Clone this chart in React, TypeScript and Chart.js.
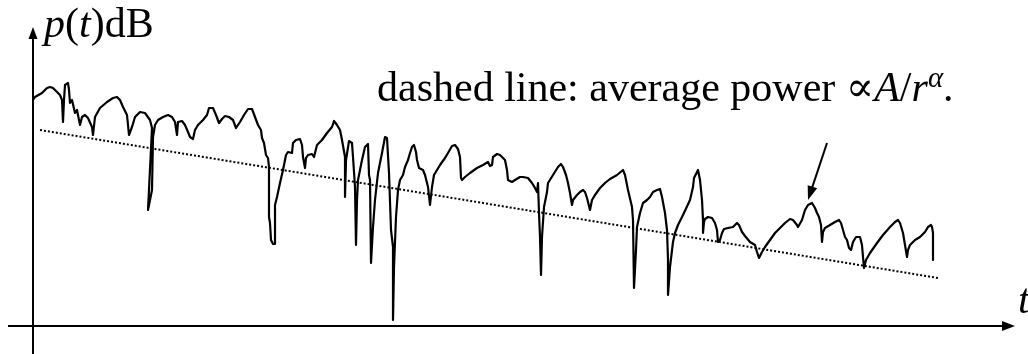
import React, { useEffect, useRef } from "react";
import { Chart, registerables } from "chart.js";

Chart.register(...registerables);

// time samples (t) and received power p(t) in dB (arbitrary units, axis origin = 0)
const timeT = [
  0, 2, 9, 14, 17, 20, 24, 27, 29, 30, 31, 32, 35, 36, 37, 39, 42, 44, 47, 49, 52, 55, 59, 60, 62, 67, 74, 80, 84, 87,
  90, 94, 96, 99, 102, 107, 112, 117, 119, 115, 119, 120, 122, 125, 130, 135, 139, 142, 144, 145, 149, 152, 155, 157,
  160, 162, 165, 170, 174, 176, 180, 183, 186, 189, 192, 196, 200, 203, 207, 211, 215, 219, 222, 225, 228, 229, 231,
  233, 235, 236, 236, 237, 238, 240, 242, 242, 244, 247, 250, 253, 255, 259, 260, 263, 267, 269, 270, 272, 273, 275,
  279, 281, 284, 289, 294, 299, 301, 304, 307, 309, 312, 312, 313, 316, 319, 320, 322, 323, 324, 325, 329, 332, 335,
  336, 337, 338, 340, 342, 345, 349, 352, 354, 356, 358, 360, 360, 361, 363, 365, 367, 370, 372, 375, 377, 379, 381,
  383, 384, 386, 390, 392, 395, 397, 399, 401, 404, 407, 412, 415, 419, 422, 425, 427, 428, 429, 432, 437, 444, 450,
  455, 457, 459, 460, 464, 467, 472, 474, 475, 479, 482, 487, 490, 495, 499, 502, 504, 505, 506, 507, 508, 509, 511,
  514, 515, 520, 525, 528, 530, 533, 535, 537, 539, 540, 544, 547, 550, 552, 554, 557, 559, 562, 567, 572, 577, 584,
  590, 592, 595, 599, 600, 601, 603, 604, 607, 610, 614, 617, 620, 624, 627, 629, 632, 634, 635, 635, 637, 640, 642,
  645, 650, 657, 660, 661, 664, 665, 667, 669, 670, 670, 671, 672, 675, 679, 682, 684, 685, 687, 689, 691, 695, 700,
  704, 706, 709, 712, 717, 722, 724, 726, 729, 732, 737, 742, 747, 752, 757, 760, 764, 765, 769, 772, 775, 779, 782,
  784, 786, 788, 789, 790, 792, 797, 802, 806, 808, 810, 812, 814, 816, 818, 820, 823, 827, 829, 830, 831, 833, 837,
  844, 850, 857, 862, 865, 867, 870, 872, 874, 875, 877, 882, 887, 892, 895, 898, 899, 900, 900, 900,
];
const powerDb = [
  226, 229, 233, 238, 239, 238, 234, 231, 226, 204, 226, 241, 243, 236, 223, 226, 213, 216, 201, 209, 211, 208, 199,
  191, 209, 218, 224, 228, 229, 226, 219, 211, 191, 199, 209, 214, 213, 206, 198, 116, 136, 189, 201, 206, 209, 211,
  209, 204, 191, 204, 205, 201, 194, 189, 187, 196, 201, 206, 211, 218, 218, 211, 203, 207, 210, 209, 206, 198, 204,
  211, 217, 217, 209, 201, 196, 188, 183, 171, 168, 159, 109, 103, 86, 82, 82, 121, 129, 143, 156, 171, 174, 173, 183,
  186, 187, 181, 169, 158, 168, 171, 172, 169, 181, 186, 193, 199, 205, 201, 196, 186, 169, 129, 166, 185, 183, 169,
  139, 81, 126, 146, 166, 179, 182, 151, 146, 63, 99, 126, 153, 173, 189, 188, 153, 96, 79, 6, 59, 109, 136, 146, 151,
  159, 166, 173, 179, 181, 174, 166, 158, 156, 151, 139, 121, 139, 151, 156, 161, 168, 173, 180, 181, 177, 169, 148,
  146, 149, 153, 158, 161, 164, 160, 161, 169, 172, 171, 166, 156, 146, 144, 146, 149, 149, 148, 143, 138, 134, 143,
  113, 89, 51, 89, 119, 134, 143, 151, 159, 162, 159, 151, 143, 133, 121, 126, 131, 134, 136, 134, 128, 116, 126, 131,
  138, 143, 147, 151, 156, 151, 136, 119, 106, 38, 76, 99, 113, 123, 126, 129, 134, 136, 137, 129, 113, 96, 66, 31,
  59, 84, 93, 101, 111, 126, 139, 148, 154, 156, 146, 126, 106, 93, 104, 107, 109, 108, 103, 96, 84, 86, 93, 97, 98,
  99, 103, 101, 94, 90, 84, 81, 74, 68, 74, 79, 86, 93, 98, 103, 107, 106, 101, 99, 106, 116, 121, 123, 118, 113, 109,
  101, 84, 94, 98, 101, 104, 106, 103, 96, 89, 86, 78, 76, 84, 89, 89, 81, 69, 58, 66, 73, 83, 91, 99, 104, 106, 103,
  93, 81, 69, 76, 81, 86, 89, 94, 99, 101, 99, 93, 76, 66,
];

// average power (dotted trend) end points
const avgT = [7, 905];
const avgDb = [196, 48];

// annotation arrow: from, to
const arrowT = [794, 775];
const arrowDb = [183, 126];

// axis extents
const axisT = [-25, 982];
const axisDb = [-28, 299];
const viewT = [-33, 995];
const viewDb = [-28, 326];

const yAxisLabel = [
  { text: "p", italic: true },
  { text: "(", italic: false },
  { text: "t", italic: true },
  { text: ")dB", italic: false },
];
const xAxisLabel = "t";
const noteLabel = [
  { text: "dashed line: average power ", italic: false },
  { text: "\u221D", italic: false },
  { text: "A", italic: true },
  { text: "/", italic: false },
  { text: "r", italic: true },
  { text: "\u03B1", italic: true, sup: true },
  { text: ".", italic: false },
];

const FONT = '"Liberation Serif", "Times New Roman", "DejaVu Serif", serif';

type Seg = { text: string; italic: boolean; sup?: boolean };

function drawRich(ctx: CanvasRenderingContext2D, x: number, y: number, segs: Seg[], size: number) {
  let cx = x;
  for (const s of segs) {
    const sz = s.sup ? Math.round(size * 0.68) : size;
    ctx.font = `${s.italic ? "italic " : ""}${sz}px ${FONT}`;
    const dy = s.sup ? -size * 0.33 : 0;
    ctx.fillText(s.text, cx, y + dy);
    cx += ctx.measureText(s.text).width;
  }
}

function arrowHead(ctx: CanvasRenderingContext2D, fx: number, fy: number, tx: number, ty: number, len: number, half: number) {
  const dx = tx - fx;
  const dy = ty - fy;
  const d = Math.hypot(dx, dy) || 1;
  const ux = dx / d;
  const uy = dy / d;
  const bx = tx - ux * len;
  const by = ty - uy * len;
  ctx.beginPath();
  ctx.moveTo(tx, ty);
  ctx.lineTo(bx - uy * half, by + ux * half);
  ctx.lineTo(bx + uy * half, by - ux * half);
  ctx.closePath();
  ctx.fill();
}

function arrowLine(ctx: CanvasRenderingContext2D, fx: number, fy: number, tx: number, ty: number, len: number, half: number) {
  const d = Math.hypot(tx - fx, ty - fy) || 1;
  const ux = (tx - fx) / d;
  const uy = (ty - fy) / d;
  ctx.beginPath();
  ctx.moveTo(fx, fy);
  ctx.lineTo(tx - ux * (len - 2), ty - uy * (len - 2));
  ctx.stroke();
  arrowHead(ctx, fx, fy, tx, ty, len, half);
}

const decorPlugin = {
  id: "decor",
  beforeDatasetsDraw(chart: any) {
    const ctx: CanvasRenderingContext2D = chart.ctx;
    const xs = chart.scales.x;
    const ys = chart.scales.y;
    const X = (v: number) => xs.getPixelForValue(v);
    const Y = (v: number) => ys.getPixelForValue(v);
    ctx.save();
    ctx.strokeStyle = "#000";
    ctx.fillStyle = "#000";
    ctx.lineWidth = 2;
    ctx.setLineDash([]);
    // y axis
    arrowLine(ctx, X(0), Y(axisDb[0]), X(0), Y(axisDb[1]), 12, 4.5);
    // x axis
    arrowLine(ctx, X(axisT[0]), Y(0), X(axisT[1]), Y(0), 13, 5);
    // pointer arrow
    arrowLine(ctx, X(arrowT[0]), Y(arrowDb[0]), X(arrowT[1]), Y(arrowDb[1]), 14, 5);
    // labels
    ctx.textBaseline = "alphabetic";
    ctx.textAlign = "left";
    drawRich(ctx, X(11), Y(289), yAxisLabel, 42);
    drawRich(ctx, X(344), Y(225), noteLabel, 42);
    ctx.font = `italic 42px ${FONT}`;
    ctx.fillText(xAxisLabel, X(985), Y(13));
    ctx.restore();
  },
};

export default function App() {
  const ref = useRef<HTMLCanvasElement>(null);
  useEffect(() => {
    if (!ref.current) return;
    const chart = new Chart(ref.current, {
      type: "scatter",
      data: {
        datasets: [
          {
            label: "p(t)",
            data: timeT.map((t, i) => ({ x: t, y: powerDb[i] })),
            showLine: true,
            borderColor: "#000",
            borderWidth: 2.2,
            pointRadius: 0,
            tension: 0,
            borderJoinStyle: "round",
            fill: false,
          },
          {
            label: "average",
            data: avgT.map((t, i) => ({ x: t, y: avgDb[i] })),
            showLine: true,
            borderColor: "#000",
            borderWidth: 2,
            borderDash: [2, 2],
            pointRadius: 0,
            fill: false,
          },
        ],
      },
      options: {
        animation: false,
        responsive: true,
        maintainAspectRatio: false,
        devicePixelRatio: 1,
        layout: { padding: 0 },
        plugins: { legend: { display: false }, tooltip: { enabled: false } },
        scales: {
          x: { type: "linear", min: viewT[0], max: viewT[1], display: false },
          y: { type: "linear", min: viewDb[0], max: viewDb[1], display: false },
        },
      },
      plugins: [decorPlugin],
    } as any);
    return () => chart.destroy();
  }, []);
  return (
    <div style={{ position: "fixed", left: 0, top: 0, width: 1028, height: 354, background: "#fff" }}>
      <canvas ref={ref} />
    </div>
  );
}
